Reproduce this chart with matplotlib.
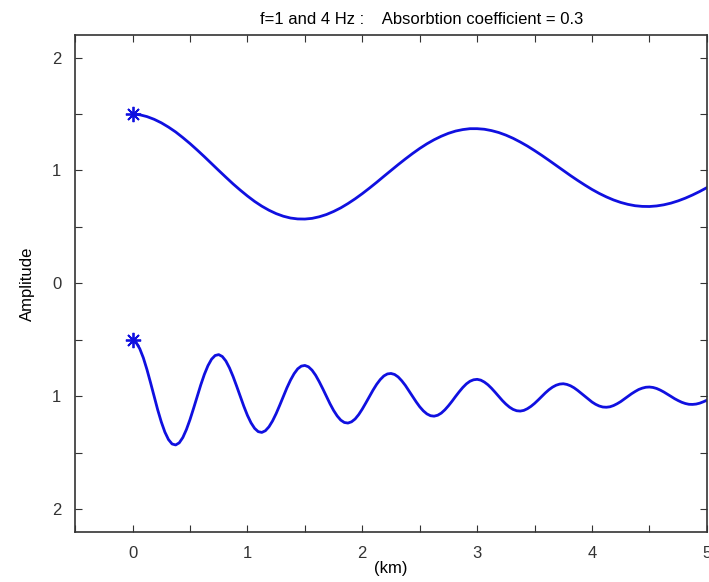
import numpy as np
import matplotlib.pyplot as plt
from matplotlib.ticker import MultipleLocator, FuncFormatter

plt.rcParams['font.family'] = ['Liberation Sans', 'DejaVu Sans']

# 1 Hz trace, read every 0.0625 km
x_1hz = [i * 0.0625 for i in range(81)]
amp_1hz = [1.500, 1.493, 1.477, 1.453, 1.422, 1.384, 1.341, 1.291, 1.238, 1.181,
           1.122, 1.061, 1.000, 0.940, 0.881, 0.826, 0.774, 0.726, 0.684, 0.648,
           0.618, 0.595, 0.579, 0.571, 0.570, 0.576, 0.590, 0.610, 0.637, 0.669,
           0.707, 0.749, 0.795, 0.844, 0.895, 0.948, 1.000, 1.052, 1.102, 1.150,
           1.195, 1.236, 1.272, 1.303, 1.329, 1.349, 1.362, 1.370, 1.370, 1.365,
           1.353, 1.336, 1.313, 1.285, 1.252, 1.216, 1.176, 1.134, 1.090, 1.045,
           1.000, 0.955, 0.912, 0.871, 0.832, 0.797, 0.766, 0.739, 0.717, 0.700,
           0.688, 0.682, 0.681, 0.686, 0.696, 0.711, 0.731, 0.755, 0.783, 0.814,
           0.848]

# 4 Hz trace, read every 0.03125 km
x_4hz = [i * 0.03125 for i in range(161)]
amp_4hz = [-0.500, -0.523, -0.578, -0.659, -0.762, -0.878, -1.000, -1.119, -1.226, -1.316,
           -1.382, -1.421, -1.430, -1.411, -1.364, -1.293, -1.205, -1.105, -1.000, -0.898,
           -0.805, -0.728, -0.671, -0.638, -0.630, -0.647, -0.687, -0.748, -0.824, -0.910,
           -1.000, -1.088, -1.168, -1.234, -1.283, -1.312, -1.319, -1.304, -1.269, -1.217,
           -1.152, -1.078, -1.000, -0.924, -0.856, -0.799, -0.756, -0.732, -0.726, -0.738,
           -0.768, -0.813, -0.870, -0.933, -1.000, -1.065, -1.124, -1.173, -1.210, -1.231,
           -1.236, -1.225, -1.200, -1.161, -1.112, -1.057, -1.000, -0.944, -0.893, -0.851,
           -0.819, -0.801, -0.797, -0.806, -0.828, -0.862, -0.903, -0.951, -1.000, -1.048,
           -1.092, -1.128, -1.155, -1.171, -1.175, -1.167, -1.148, -1.119, -1.083, -1.043,
           -1.000, -0.959, -0.921, -0.889, -0.866, -0.853, -0.849, -0.856, -0.873, -0.897,
           -0.928, -0.963, -1.000, -1.036, -1.068, -1.095, -1.115, -1.127, -1.130, -1.124,
           -1.109, -1.088, -1.062, -1.032, -1.000, -0.969, -0.941, -0.918, -0.901, -0.891,
           -0.888, -0.894, -0.906, -0.924, -0.947, -0.973, -1.000, -1.026, -1.050, -1.070,
           -1.085, -1.094, -1.096, -1.092, -1.081, -1.065, -1.046, -1.023, -1.000, -0.977,
           -0.957, -0.939, -0.927, -0.919, -0.917, -0.921, -0.930, -0.944, -0.961, -0.980,
           -1.000, -1.020, -1.037, -1.052, -1.063, -1.070, -1.071, -1.068, -1.060, -1.048,
           -1.034]

# source points
src_x = [0, 0]
src_y = [1.5, -0.5]

fig = plt.figure(figsize=(7.09, 5.82), dpi=100)
ax = fig.add_axes([0.106, 0.086, 0.891, 0.854])

col = '#1010e0'
ax.plot(x_1hz, amp_1hz, color=col, lw=2.0, solid_joinstyle='round')
ax.plot(x_4hz, amp_4hz, color=col, lw=2.0, solid_joinstyle='round')
ax.plot(src_x, src_y, ls='none', marker=(8, 2, 0), ms=11, mew=1.3, color=col)

ax.set_xlim(-0.5, 5)
ax.set_ylim(-2.2, 2.2)

ax.xaxis.set_major_locator(MultipleLocator(0.5))
ax.yaxis.set_major_locator(MultipleLocator(0.5))
ax.xaxis.set_major_formatter(FuncFormatter(lambda v, p: '%d' % round(v) if abs(v - round(v)) < 1e-6 else ''))
# the amplitude axis shows magnitudes only
ax.yaxis.set_major_formatter(FuncFormatter(lambda v, p: '%d' % abs(round(v)) if abs(v - round(v)) < 1e-6 else ''))
ax.tick_params(direction='in', top=True, right=True, length=5, width=0.8,
               labelsize=12, pad=10, colors='#333333')
for s in ax.spines.values():
    s.set_linewidth(1.2)
    s.set_color('#333333')

ax.set_xlabel('(km)', fontsize=12, labelpad=0)
ax.set_ylabel('Amplitude', fontsize=12, labelpad=12)
fig.text(0.594, 0.967, 'f=1 and 4 Hz :    Absorbtion coefficient = 0.3',
         ha='center', va='center', fontsize=12)

plt.savefig('out.png', dpi=100)
